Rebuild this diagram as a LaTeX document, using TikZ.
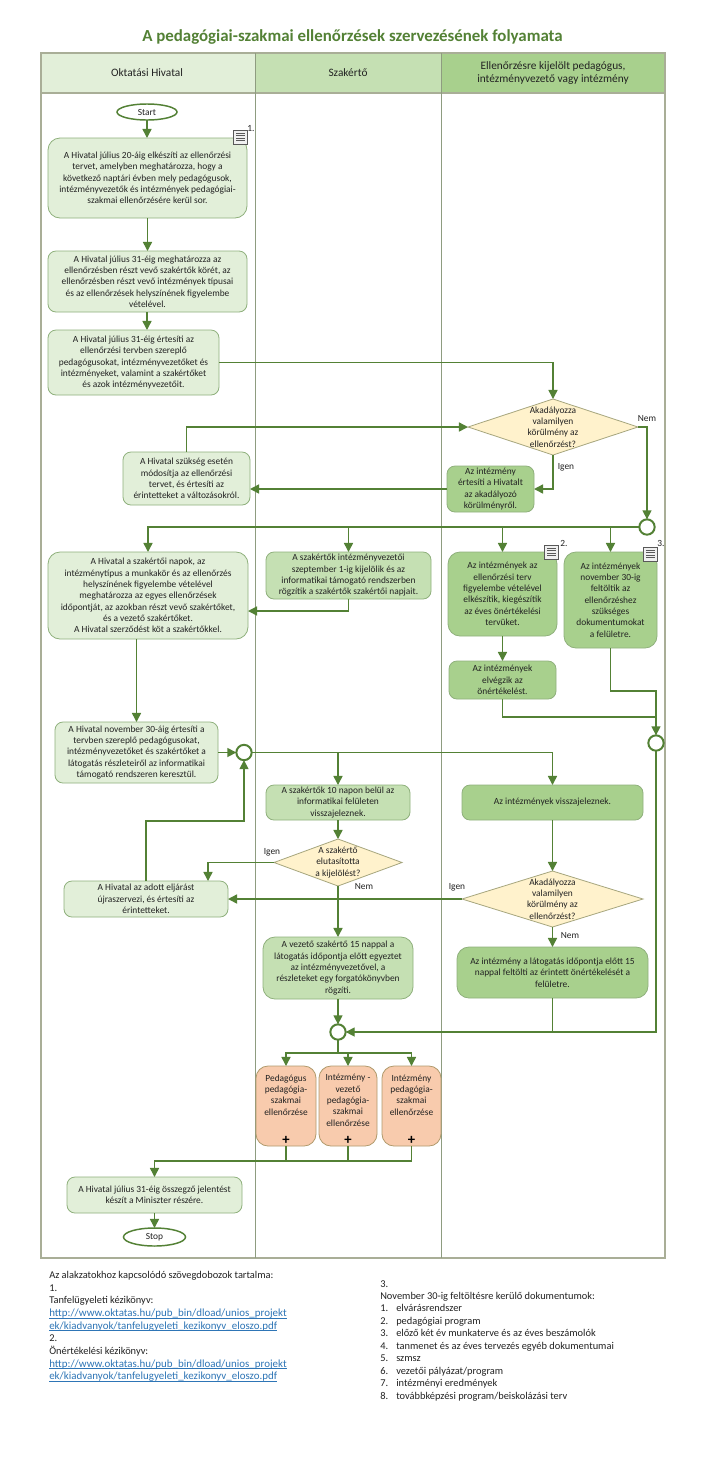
\documentclass[tikz,border=0pt]{standalone}
\usepackage{fontspec}
\setmainfont{Carlito}
\usetikzlibrary{arrows.meta,shapes.geometric,calc}
\definecolor{ln}{HTML}{538135}
\definecolor{lanecol}{HTML}{A9AE97}
\definecolor{divcol}{HTML}{8E9C80}
\definecolor{fa}{HTML}{E2EFD9}
\definecolor{fb}{HTML}{C5E0B3}
\definecolor{fc}{HTML}{A8D08D}
\definecolor{bda}{HTML}{8FB07C}
\definecolor{dia}{HTML}{FFF2CC}
\definecolor{bdd}{HTML}{A6A67E}
\definecolor{org}{HTML}{F8CBAD}
\definecolor{bdo}{HTML}{B09A6C}
\definecolor{txt}{HTML}{222222}
\definecolor{titlecol}{HTML}{538135}
\definecolor{linkcol}{HTML}{2E75B6}
\newcommand{\ftxt}{\fontsize{7.05}{8.5}\selectfont}
\newcommand{\lk}[1]{{\fontsize{8.2}{9.5}\selectfont\setbox0=\hbox{\textcolor{linkcol}{#1}}\rlap{\textcolor{linkcol}{\rule[-1.2pt]{\wd0}{0.4pt}}}\box0}}
\tikzset{
  x=0.75pt,y=-0.75pt,
  boxbase/.style={rectangle,rounded corners=6pt,draw=bda,line width=0.6pt,inner sep=0pt,outer sep=0pt,align=center,text=txt,font=\ftxt},
  boxa/.style={boxbase,fill=fa},
  boxb/.style={boxbase,fill=fb},
  boxc/.style={boxbase,fill=fc},
  boxo/.style={boxbase,fill=org,draw=bdo},
  big/.style={rounded corners=9pt},
  flow/.style={draw=ln,line width=1.1pt,-{Triangle[length=6.8pt,width=6.8pt]}},
  plain/.style={draw=ln,line width=1.1pt},
  decis/.style={diamond,draw=bdd,line width=0.6pt,fill=dia,inner sep=0pt,outer sep=0pt},
  terminal/.style={ellipse,draw=ln,line width=1.1pt,fill=white,inner sep=0pt,outer sep=0pt,font=\ftxt,text=txt},
  joint/.style={circle,draw=ln,line width=1.5pt,fill=white,inner sep=0pt,outer sep=0pt,minimum size=11.5pt},
  lbl/.style={font=\ftxt,text=txt,inner sep=0pt,align=center},
  foot/.style={font=\fontsize{7.8}{9.5}\selectfont,text=txt,inner sep=0pt,align=left,anchor=north west},
  footr/.style={foot,font=\fontsize{7.8}{9.35}\selectfont},
  headtxt/.style={font=\fontsize{8.5}{10.2}\selectfont,text=txt,inner sep=0pt,align=center},
}
% name, style, x1, y1, x2, y2, text
\newcommand{\flowbox}[7]{%
  \node[#2,minimum width={(#5-#3)*0.75pt},minimum height={(#6-#4)*0.75pt}] (#1) at ({(#3+#5)/2},{(#4+#6)/2}) {#7};}
\newcommand{\decision}[6]{%
  \node[decis,minimum width={(#4-#2)*0.75pt},minimum height={(#5-#3)*0.75pt}] (#1) at ({(#2+#4)/2},{(#3+#5)/2}) {};
  \node[lbl] (#1t) at (#1.center) {#6};}
\newcommand{\noteicon}[2]{%
  \draw[draw=gray!70!black,line width=0.5pt,fill=gray!12] (#1,#2) rectangle ++(14.5,14.5);
  \foreach \yy in {3,5.5,8,10.5}{\draw[gray!70!black,line width=0.5pt] (#1+3,#2+\yy) -- ++(8.5,0);}}
\begin{document}
\begin{tikzpicture}
\useasboundingbox (0,0) rectangle (706,1457);
\fill[white] (0,0) rectangle (706,1457);
\node[font=\fontsize{12.66}{14}\selectfont\bfseries,text=titlecol,inner sep=0pt] (title) at (352.5,37) {A pedagógiai-szakmai ellenőrzések szervezésének folyamata};
% lanes
\fill[fa] (41,53) rectangle (255.5,93);
\fill[fb] (255.5,53) rectangle (441,93);
\fill[fc] (441,53) rectangle (665,93);
\draw[lanecol,line width=0.9pt] (41,53) rectangle (665,1258);
\draw[lanecol,line width=0.9pt] (41,93) -- (665,93);
\draw[divcol,line width=0.7pt] (255.5,53) -- (255.5,1258);
\draw[divcol,line width=0.7pt] (441,53) -- (441,1258);
\node[headtxt] (h1) at (147,73) {Oktatási Hivatal};
\node[headtxt] (h2) at (348,73) {Szakértő};
\node[headtxt] (h3) at (553,73) {Ellenőrzésre kijelölt pedagógus,\\intézményvezető vagy intézmény};
% nodes
\node[terminal,minimum width=45pt,minimum height=12pt] (start) at (147,112) {Start};
\flowbox{b1}{boxa,big}{48}{138}{247}{218}{A Hivatal július 20-áig elkészíti az ellenőrzési\\tervet, amelyben meghatározza, hogy a\\következő naptári évben mely pedagógusok,\\intézményvezetők és intézmények pedagógiai-\\szakmai ellenőrzésére kerül sor.}
\flowbox{b2}{boxa}{48}{251}{247}{312}{A Hivatal július 31-éig meghatározza az\\ellenőrzésben részt vevő szakértők körét, az\\ellenőrzésben részt vevő intézmények típusai\\és az ellenőrzések helyszínének figyelembe\\vételével.}
\flowbox{b3}{boxa}{48}{330}{219}{395}{A Hivatal július 31-éig értesíti az\\ellenőrzési tervben szereplő\\pedagógusokat, intézményvezetőket és\\intézményeket, valamint a szakértőket\\és azok intézményvezetőit.}
\decision{d1}{468}{399}{638}{455}{Akadályozza\\valamilyen\\körülmény az\\ellenőrzést?}
\flowbox{bI}{boxc}{447}{466}{534}{512}{Az intézmény\\értesíti a Hivatalt\\az akadályozó\\körülményről.}
\flowbox{bM}{boxa}{123}{452}{250}{505}{A Hivatal szükség esetén\\módosítja az ellenőrzési\\tervet, és értesíti az\\érintetteket a változásokról.}
\node[joint] (cA) at (647,527) {};
\flowbox{bO}{boxa,big}{48}{552}{248}{639}{A Hivatal a szakértői napok, az\\intézménytípus a munkakör és az ellenőrzés\\helyszínének figyelembe vételével\\meghatározza az egyes ellenőrzések\\időpontját, az azokban részt vevő szakértőket,\\és a vezető szakértőket.\\A Hivatal szerződést köt a szakértőkkel.}
\flowbox{bS}{boxb}{266}{552}{431}{599}{A szakértők intézményvezetői\\szeptember 1-ig kijelölik és az\\informatikai támogató rendszerben\\rögzítik a szakértők szakértői napjait.}
\flowbox{bJ}{boxc,big}{448}{552}{557}{636}{Az intézmények az\\ellenőrzési terv\\figyelembe vételével\\elkészítik, kiegészítik\\az éves önértékelési\\tervüket.}
\flowbox{bK}{boxc,big}{564}{552}{657}{648}{Az intézmények\\november 30-ig\\feltöltik az\\ellenőrzéshez\\szükséges\\dokumentumokat\\a felületre.}
\flowbox{bL}{boxc}{449}{661}{556}{699}{Az intézmények\\elvégzik az\\önértékelést.}
\node[joint] (cD) at (656,743) {};
\flowbox{bN}{boxa}{55}{722}{218}{783}{A Hivatal november 30-áig értesíti a\\tervben szereplő pedagógusokat,\\intézményvezetőket és szakértőket a\\látogatás részleteiről az informatikai\\támogató rendszeren keresztül.}
\node[joint] (cB) at (244,752.5) {};
\flowbox{bV}{boxb}{266}{785}{410}{820}{A szakértők 10 napon belül az\\informatikai felületen\\visszajeleznek.}
\flowbox{bW}{boxc}{462}{785}{643}{820}{Az intézmények visszajeleznek.}
\decision{d2}{274}{839}{402}{886}{A szakértő\\elutasította\\a kijelölést?}
\decision{d3}{462}{871}{643}{927}{Akadályozza\\valamilyen\\körülmény az\\ellenőrzést?}
\flowbox{bR}{boxa}{64}{881}{228}{917}{A Hivatal az adott eljárást\\újraszervezi, és értesíti az\\érintetteket.}
\flowbox{bT}{boxb,big}{263}{937}{413}{999}{A vezető szakértő 15 nappal a\\látogatás időpontja előtt egyeztet\\az intézményvezetővel, a\\részleteket egy forgatókönyvben\\rögzíti.}
\flowbox{bF}{boxc,big}{457}{947}{648}{998}{Az intézmény a látogatás időpontja előtt 15\\nappal feltölti az érintett önértékelését a\\felületre.}
\node[joint] (cC) at (338,1032) {};
\flowbox{p1}{boxo,big}{256}{1066}{316}{1146}{Pedagógus\\pedagógia-\\szakmai\\ellenőrzése\\[8pt]}
\flowbox{p2}{boxo,big}{319}{1066}{377}{1146}{Intézmény -\\vezető\\pedagógia-\\szakmai\\ellenőrzése\\[0pt]}
\flowbox{p3}{boxo,big}{382}{1066}{441}{1146}{Intézmény\\pedagógia-\\szakmai\\ellenőrzése\\[8pt]}
\foreach \nn in {p1,p2,p3}{\node[font=\fontsize{11}{11}\selectfont\bfseries,text=black,inner sep=0pt] (plus\nn) at ($(\nn.south)+(0,-6)$) {+};}
\flowbox{bE}{boxa}{67}{1177}{242}{1213}{A Hivatal július 31-éig összegző jelentést\\készít a Miniszter részére.}
\node[terminal,minimum width=46.5pt,minimum height=13.5pt] (stop) at (154.5,1237) {Stop};
% note icons
\noteicon{233}{130}
\noteicon{544}{545}
\noteicon{643}{547}
\node[lbl] (n1) at (251,129) {1.};
\node[lbl] (n2) at (564,543) {2.};
\node[lbl] (n3) at (661,543) {3.};
% helper coordinates
\coordinate (jO) at (248,611);
\coordinate (jR) at (208,881);
\coordinate (jU) at (146,821);
\coordinate (jK) at (656,691);
\coordinate (jL) at (656,717);
\coordinate (jP) at (338,1053);
\coordinate (jQ) at (154.5,1161);
% connectors
\draw[flow] (start) -- (start.south |- b1.north);
\draw[flow] (b1.south -| b2.north) -- (b2.north);
\draw[flow] (b2.south -| start.south) -- (start.south |- b3.north);
\draw[flow] (b3.east) -| (d1.north);
\draw[flow] (d1.east) -| (cA.north);
\draw[flow] (d1.south) |- (bI.east);
\draw[flow] (bI.west) -- (bM.east |- bI.west);
\draw[flow] (bM.north) |- (d1.west);
\draw[flow] (cA.west) -| (bO.north);
\draw[flow] (bS.north |- cA.west) -- (bS.north);
\draw[flow] (bJ.north |- cA.west) -- (bJ.north);
\draw[flow] (bK.north |- cA.west) -- (bK.north);
\draw[flow] (bS.south) |- (jO);
\draw[flow] (bJ.south) -- (bL.north);
\draw[flow] (bK.south) |- (jK) -- (cD.north);
\draw[plain] (bL.south) |- (jL);
\draw[flow] (bO.south -| bN.north) -- (bN.north);
\draw[flow] (bN.east |- cB.west) -- (cB.west);
\draw[flow] (cB.east) -| (bW.north);
\draw[flow] (bV.north |- cB.east) -- (bV.north);
\draw[flow] (bV.south) -- (d2.north);
\draw[flow] (d2.west) -| (jR);
\draw[flow] (bR.north) -- (bR.north |- jU) -| (cB.south);
\draw[flow] (d2.south) -- (bT.north);
\draw[flow] (bW.south) -- (d3.north);
\draw[flow] (d3.west) -- (bR.east);
\draw[flow] (d3.south) -- (bF.north);
\draw[flow] (bT.south) -- (cC.north);
\draw[flow] (cD.south) |- (cC.east);
\draw[plain] (bF.south) -- (bF.south |- cC.east);
\draw[plain] (cC.south) -- (jP);
\draw[flow] (jP) -| (p1.north);
\draw[flow] (jP) -| (p3.north);
\draw[flow] (p2.north |- jP) -- (p2.north);
\draw[plain] (p1.south) -- (p1.south |- jQ);
\draw[plain] (p2.south) -- (p2.south |- jQ);
\draw[flow] (p3.south) |- (jQ) -- (bE.north);
\draw[flow] (bE.south) -- (stop.north);
% branch labels
\node[lbl] (l1) at (647,419) {Nem};
\node[lbl] (l2) at (566,467) {Igen};
\node[lbl] (l3) at (272,852) {Igen};
\node[lbl] (l4) at (364,887) {Nem};
\node[lbl] (l5) at (457,887) {Igen};
\node[lbl] (l6) at (570,936) {Nem};
% footnotes
\node[foot] (fl) at (49,1271) {Az alakzatokhoz kapcsolódó szövegdobozok tartalma:\\1.\\Tanfelügyeleti kézikönyv:\\\lk{http://www.oktatas.hu/pub\_bin/dload/unios\_projekt}\\\lk{ek/kiadvanyok/tanfelugyeleti\_kezikonyv\_eloszo.pdf}\\2.\\Önértékelési kézikönyv:\\\lk{http://www.oktatas.hu/pub\_bin/dload/unios\_projekt}\\\lk{ek/kiadvanyok/tanfelugyeleti\_kezikonyv\_eloszo.pdf}};
\node[footr] (fr) at (380,1280) {3.\\November 30-ig feltöltésre kerülő dokumentumok:\\
\makebox[12pt][l]{1.}elvárásrendszer\\
\makebox[12pt][l]{2.}pedagógiai program\\
\makebox[12pt][l]{3.}előző két év munkaterve és az éves beszámolók\\
\makebox[12pt][l]{4.}tanmenet és az éves tervezés egyéb dokumentumai\\
\makebox[12pt][l]{5.}szmsz\\
\makebox[12pt][l]{6.}vezetői pályázat/program\\
\makebox[12pt][l]{7.}intézményi eredmények\\
\makebox[12pt][l]{8.}továbbképzési program/beiskolázási terv};
\end{tikzpicture}
\end{document}
